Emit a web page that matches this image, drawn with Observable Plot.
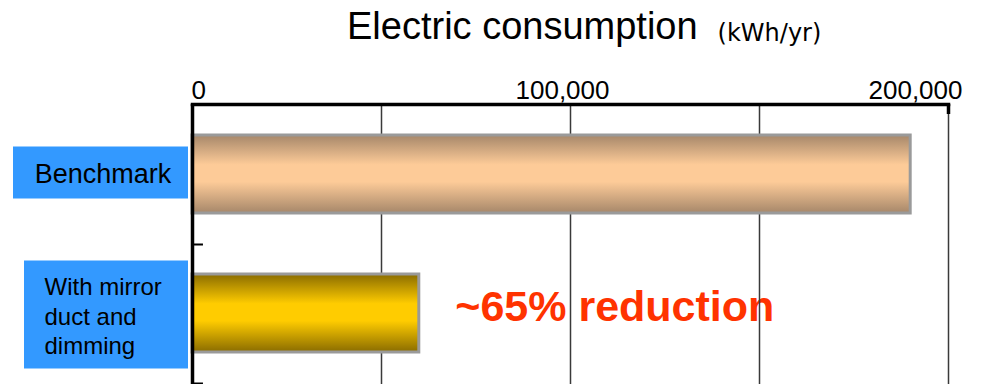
<!DOCTYPE html>
<html>
<head>
<meta charset="utf-8">
<script src="https://cdn.jsdelivr.net/npm/d3@7"></script>
<script src="https://cdn.jsdelivr.net/npm/@observablehq/plot@0.6"></script>
<style>
  html, body { margin: 0; padding: 0; background: #ffffff; }
  #wrap { position: relative; width: 986px; height: 384px; overflow: hidden; }
  #title { position: absolute; left: 347px; top: 7px; white-space: nowrap; font-family: "Liberation Sans", Arial, sans-serif; color: #000; }
  #title .main { font-size: 38px; line-height: 38px; }
  #title .unit { font-family: "DejaVu Sans", sans-serif; font-size: 24px; margin-left: 20px; position: relative; top: 2px; }
  #chart { position: absolute; left: 0; top: 0; }
</style>
</head>
<body>
<div id="wrap">
  <div id="chart"></div>
  <div id="title"><span class="main">Electric consumption</span><span class="unit">(kWh/yr)</span></div>
</div>
<script>
// ---- data ----
const categories = ["Benchmark", "With mirror duct and dimming"];
const labelLines = ["Benchmark", "With mirror\nduct and\ndimming"];
const consumption = [190000, 60000];
const tickValues = [0, 100000, 200000];
const tickLabels = ["0", "100,000", "200,000"];
const gridValues = [50000, 100000, 150000, 200000];
const annotationText = ["", "~65% reduction"];

// ---- styles ----
const font = "'Liberation Sans', Arial, sans-serif";
const gradients = [
  {id: "gBench", dark: "#A6876A", light: "#FDCB98"},
  {id: "gMirror", dark: "#8A6C00", light: "#FFCC00"}
];

const rows = categories.map((c, i) => ({category: c, label: labelLines[i], value: consumption[i], note: annotationText[i]}));
const ticks = tickValues.map((v, i) => ({value: v, label: tickLabels[i]}));

const chart = Plot.plot({
  width: 986,
  height: 384,
  marginLeft: 192,
  marginRight: 38,
  marginTop: 104,
  marginBottom: 0,
  style: {fontFamily: font, background: "transparent", overflow: "visible"},
  x: {domain: [0, 200000], axis: null},
  y: {domain: categories, axis: null, paddingInner: 0.4357, paddingOuter: 0.2179},
  color: {domain: categories, range: gradients.map(g => `url(#${g.id})`)},
  marks: [
    // annotation (drawn under the gridlines, as in the reference)
    Plot.text(rows.filter(d => d.note), {
      x: "value", y: "category", text: "note", textAnchor: "start",
      dx: 36, dy: -6, fontSize: 43, fontWeight: "bold", fill: "#FF3300"
    }),
    // gridlines
    Plot.ruleX(gridValues, {stroke: "#3a3a3a", strokeWidth: 1.5}),
    // bars
    Plot.barX(rows, {x: "value", y: "category", fill: "category", stroke: "#9a9a9a", strokeWidth: 3}),
    // axis lines
    Plot.frame({anchor: "top", stroke: "#000", strokeWidth: 3.5}),
    Plot.ruleX([0], {stroke: "#000", strokeWidth: 3.5}),
    Plot.ruleX([200000], {stroke: "#000", strokeWidth: 3.5, insetBottom: 270}),
    Plot.ruleY(categories, {y: d => d, x1: 0, x2: 2900, dy: 70, stroke: "#000", strokeWidth: 2}),
    // tick labels
    Plot.text(ticks.slice(0, 1), {x: "value", text: "label", frameAnchor: "top", lineAnchor: "bottom", textAnchor: "start", dx: -1, dy: -6, fontSize: 26, fill: "#000"}),
    Plot.text(ticks.slice(1, 2), {x: "value", text: "label", frameAnchor: "top", lineAnchor: "bottom", textAnchor: "middle", dx: -8, dy: -6, fontSize: 26, fill: "#000"}),
    Plot.text(ticks.slice(2, 3), {x: "value", text: "label", frameAnchor: "top", lineAnchor: "bottom", textAnchor: "end", dx: 14, dy: -6, fontSize: 26, fill: "#000"}),
    // category label boxes
    Plot.rect(rows.slice(0, 1), {y: "category", fill: "#3399FF", insetLeft: -179, insetRight: 760, insetTop: 11.5, insetBottom: 14.5}),
    Plot.rect(rows.slice(1, 2), {y: "category", fill: "#3399FF", insetLeft: -168, insetRight: 760, insetTop: -13.5, insetBottom: -16.5}),
    // category labels
    Plot.text(rows.slice(0, 1), {y: "category", text: "label", frameAnchor: "left", textAnchor: "middle", dx: -89.5, dy: 0, fontSize: 27, fill: "#000"}),
    Plot.text(rows.slice(1, 2), {y: "category", text: "label", frameAnchor: "left", textAnchor: "start", dx: -148, dy: 2, fontSize: 24, lineHeight: 1.23, fill: "#000"})
  ]
});

// gradient definitions for the bar fills
const defs = d3.select(chart).insert("defs", ":first-child");
gradients.forEach(g => {
  const lg = defs.append("linearGradient").attr("id", g.id).attr("x1", 0).attr("y1", 0).attr("x2", 0).attr("y2", 1);
  lg.append("stop").attr("offset", "0").attr("stop-color", g.dark);
  lg.append("stop").attr("offset", "0.38").attr("stop-color", g.light);
  lg.append("stop").attr("offset", "0.6").attr("stop-color", g.light);
  lg.append("stop").attr("offset", "1").attr("stop-color", g.dark);
});

document.getElementById("chart").appendChild(chart);
</script>
</body>
</html>
